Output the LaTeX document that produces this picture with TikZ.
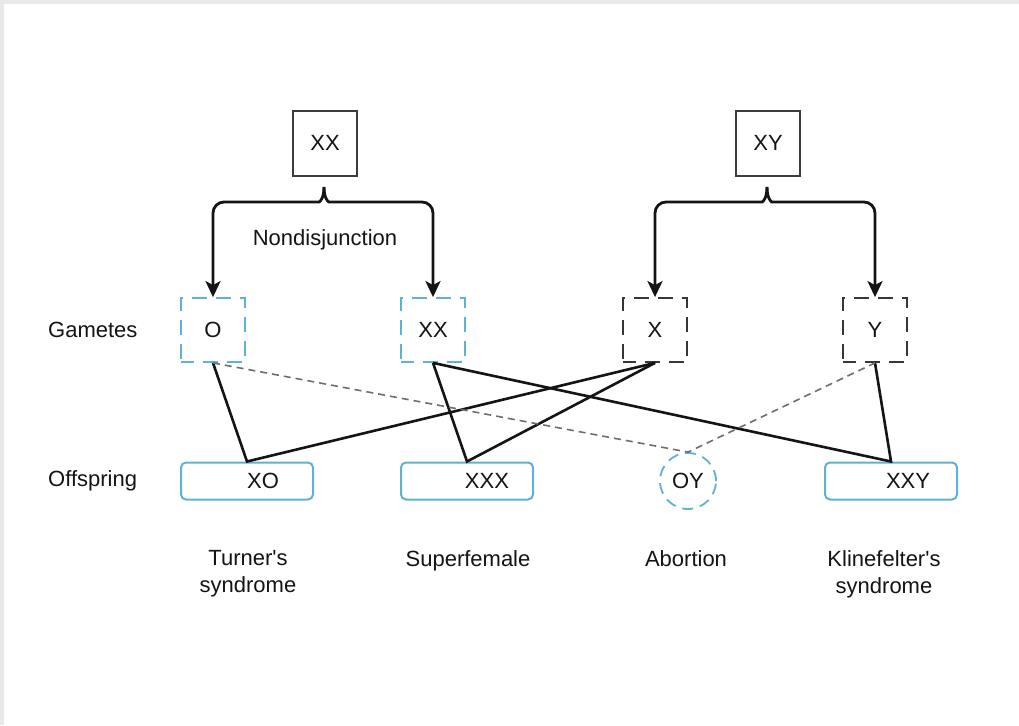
\documentclass[tikz,border=0pt]{standalone}
\usepackage{fontspec}
\setmainfont{Liberation Sans}
\usetikzlibrary{arrows.meta,shapes.geometric}
\definecolor{frame}{RGB}{233,233,233}
\definecolor{gblue}{RGB}{95,178,208}
\definecolor{ink}{RGB}{20,20,20}
\definecolor{boxgray}{RGB}{60,60,60}
\definecolor{dashgray}{RGB}{110,110,110}
\tikzset{
  lbl/.style={font=\fontsize{22}{27}\selectfont, text=ink, inner sep=0pt},
  parent/.style={lbl, draw=boxgray, line width=2pt, minimum width=64pt, minimum height=65pt},
  gamF/.style={lbl, draw=gblue, line width=1.8pt, dash pattern=on 15pt off 9pt, dash phase=2pt, minimum width=64pt, minimum height=64pt},
  gamM/.style={lbl, draw=ink!85, line width=1.8pt, dash pattern=on 15pt off 9pt, dash phase=2pt, minimum width=64pt, minimum height=64pt},
  child/.style={lbl, draw=gblue, line width=2pt, rounded corners=5pt, minimum width=132pt, minimum height=37pt},
  lost/.style={lbl, draw=gblue, line width=1.8pt, circle, dash pattern=on 11pt off 7pt, minimum size=56pt},
  split/.style={draw=ink, line width=2.8pt, rounded corners=11pt, -{Stealth[length=16pt,width=15pt,inset=4pt]}},
  cross/.style={draw=ink, line width=2.6pt},
  miss/.style={draw=dashgray, line width=1.6pt, dash pattern=on 7pt off 5pt},
}
\begin{document}
\begin{tikzpicture}[x=1pt,y=-1pt]
  % page and thin frame
  \fill[frame] (0,0) rectangle (1019,725);
  \fill[white] (4,4) rectangle (1019,725);
  \useasboundingbox (0,0) rectangle (1019,725);

  % parents
  \node[parent] (pf) at (325,143) {XX};
  \node[parent] (pm) at (768,143) {XY};

  % gametes
  \node[gamF] (gO)  at (213,330) {O};
  \node[gamF] (gXX) at (433,330) {XX};
  \node[gamM] (gX)  at (655,330) {X};
  \node[gamM] (gY)  at (875,330) {Y};

  % offspring
  \node[child] (oXO)  at (247,481) {\hspace*{32pt}XO};
  \node[child] (oXXX) at (467,481) {\hspace*{40pt}XXX};
  \node[lost]  (oOY)  at (688,481) {OY};
  \node[child] (oXXY) at (891,481) {\hspace*{34pt}XXY};

  % row labels
  \node[lbl, anchor=west] (rg) at (48,330) {Gametes};
  \node[lbl, anchor=west] (ro) at (48,481) {Offspring};

  % outcome labels
  \node[lbl, align=center, anchor=north] (tTu) at (248,550) {Turner\textquotesingle s\\syndrome};
  \node[lbl, anchor=north] (tSu) at (468,550) {Superfemale};
  \node[lbl, anchor=north] (tAb) at (686,550) {Abortion};
  \node[lbl, align=center, anchor=north] (tKl) at (884,550) {Klinefelter\textquotesingle s\\syndrome};

  \node[lbl] (nd) at (325,240) {Nondisjunction};

  % brace tips below the parents
  \coordinate (bf) at (324,187);
  \coordinate (bm) at (767,187);

  % female split (brace with two arrows)
  \draw[split] (bf) .. controls (324,198) and (320,202) .. (308,202) -- (gO.north |- 0,202) -- (gO.north);
  \draw[split] (bf) .. controls (324,198) and (328,202) .. (340,202) -- (gXX.north |- 0,202) -- (gXX.north);
  % male split
  \draw[split] (bm) .. controls (767,198) and (763,202) .. (751,202) -- (gX.north |- 0,202) -- (gX.north);
  \draw[split] (bm) .. controls (767,198) and (771,202) .. (783,202) -- (gY.north |- 0,202) -- (gY.north);

  % fertilisations
  \draw[cross] (gO.south) -- (oXO.north) -- (gX.south);
  \draw[cross] (gXX.south) -- (oXXX.north) -- (gX.south);
  \draw[cross] (gXX.south) -- (oXXY.north) -- (gY.south);
  \draw[miss] (gO.south) -- (oOY.north) -- (gY.south);
\end{tikzpicture}
\end{document}
